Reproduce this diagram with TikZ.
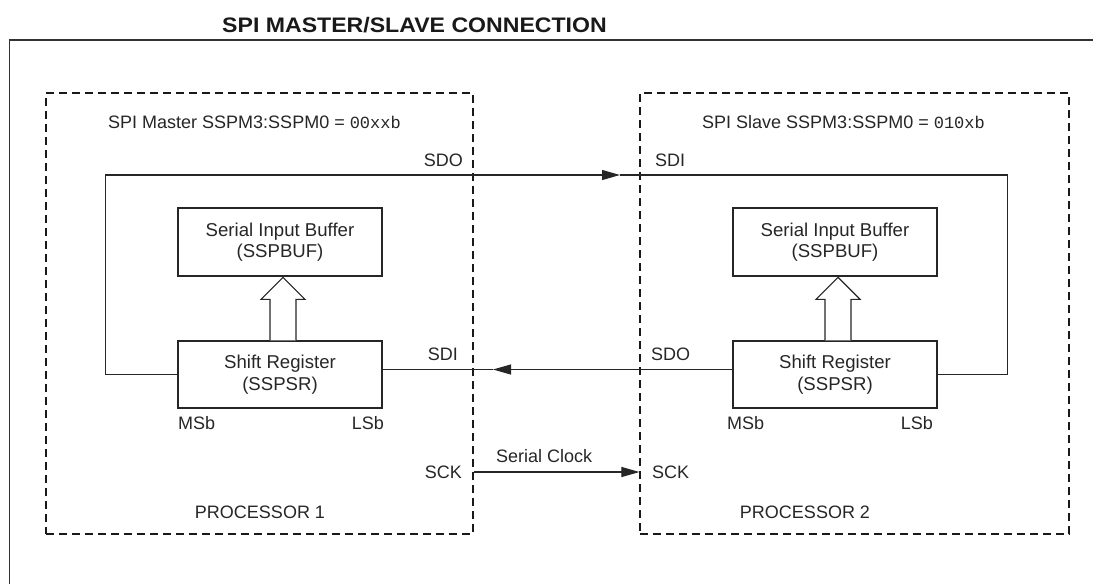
\documentclass[tikz,border=0pt]{standalone}
\usepackage{fontspec}
\setmainfont{Liberation Sans}
\setmonofont{Liberation Mono}
\usetikzlibrary{arrows.meta,calc}
\begin{document}
\begin{tikzpicture}[x=1pt,y=-1pt,
  line/.style={draw=black!85, line width=1.1pt},
  regbox/.style={draw=black!85, line width=1.3pt, minimum width=204pt, minimum height=67pt, inner sep=0pt, align=center, font=\fontsize{18.6}{21.5}\selectfont, text=black!85},
  procbox/.style={draw=black!90, line width=1.2pt, dash pattern=on 8pt off 5pt, minimum width=427pt, minimum height=441pt, inner sep=0pt},
  lbl/.style={font=\fontsize{18}{21}\selectfont, text=black!85, inner sep=0pt},
  tip/.style={-{Triangle[length=18pt,width=10pt]}},
  hollow/.style={draw=black!85, line width=1.2pt, fill=white, line join=miter}
]
\useasboundingbox (0,0) rectangle (1093,584);
% title
\node[lbl, anchor=base west, font=\bfseries\fontsize{21}{25}\selectfont, text=black!90] (title) at (222,32) {\scalebox{1.1}[1]{SPI MASTER/SLAVE CONNECTION}};
% outer frame
\coordinate (frameR) at (1093,40);
\coordinate (frameB) at (9.5,584);
\draw[line width=1.5pt, black!80] (frameR) -| (frameB);
% processor boxes
\node[procbox] (p1) at (259.5,313.5) {};
\node[procbox, minimum width=429pt] (p2) at (854.5,313.5) {};
% headers
\node[lbl, anchor=base west] (h1) at (108,128) {SPI Master SSPM3:SSPM0 = {\ttfamily\fontsize{17}{20}\selectfont 00xxb}};
\node[lbl, anchor=base west] (h2) at (702,128) {SPI Slave SSPM3:SSPM0 = {\ttfamily\fontsize{17}{20}\selectfont 010xb}};
% registers
\node[regbox, minimum height=68pt] (bufL) at (280,242) {Serial Input Buffer\\(SSPBUF)};
\node[regbox] (srL) at (280,374.5) {Shift Register\\(SSPSR)};
\node[regbox, minimum height=68pt] (bufR) at (835,242) {Serial Input Buffer\\(SSPBUF)};
\node[regbox] (srR) at (835,374.5) {Shift Register\\(SSPSR)};
% hollow arrows
\draw[hollow] ([xshift=-10pt]srL.north) -- ++(0,-41) -- ++(-9,0) -- ++(22,-22) -- ++(22,22) -- ++(-9,0) -- ++(0,41);
\draw[hollow] ([xshift=-10pt]srR.north) -- ++(0,-41) -- ++(-9,0) -- ++(22,-22) -- ++(22,22) -- ++(-9,0) -- ++(0,41);
% SDO -> SDI loop
\coordinate (sdoTip) at (620,175);
\draw[line, tip] (srL.west) -- ++(-72,0) |- (sdoTip);
\draw[line] (sdoTip) -| ([xshift=70pt]srR.east) -- (srR.east);
% SDO (slave) -> SDI (master)
\coordinate (sdiTip) at (493,369.5);
\draw[line, tip] ([yshift=5pt]srR.west) -- (sdiTip);
\draw[line] (sdiTip) -- ([yshift=5pt]srL.east);
% serial clock
\coordinate (sckL) at (p1.east |- 0,472);
\coordinate (sckR) at (p2.west |- 0,472);
\draw[line, tip] (sckL) -- (sckR);
% labels
\node[lbl, anchor=base east] (sdoL) at (463,166) {SDO};
\node[lbl, anchor=base east] (sdiL) at (458,360) {SDI};
\node[lbl, anchor=base west] (sdiR) at (655,166) {SDI};
\node[lbl, anchor=base west] (sdoR) at (651,360) {SDO};
\node[lbl, anchor=base west] (msbL) at (178,429) {MSb};
\node[lbl, anchor=base east] (lsbL) at (384,429) {LSb};
\node[lbl, anchor=base west] (msbR) at (727,429) {MSb};
\node[lbl, anchor=base east] (lsbR) at (933,429) {LSb};
\node[lbl, anchor=base east] (sckLl) at (462,478) {SCK};
\node[lbl, anchor=base west] (sckRl) at (652,478) {SCK};
\node[lbl, anchor=base west] (clk) at (496,462) {Serial Clock};
\node[lbl, anchor=base] (pr1) at (260,518) {PROCESSOR 1};
\node[lbl, anchor=base] (pr2) at (805,518) {PROCESSOR 2};
\end{tikzpicture}
\end{document}
